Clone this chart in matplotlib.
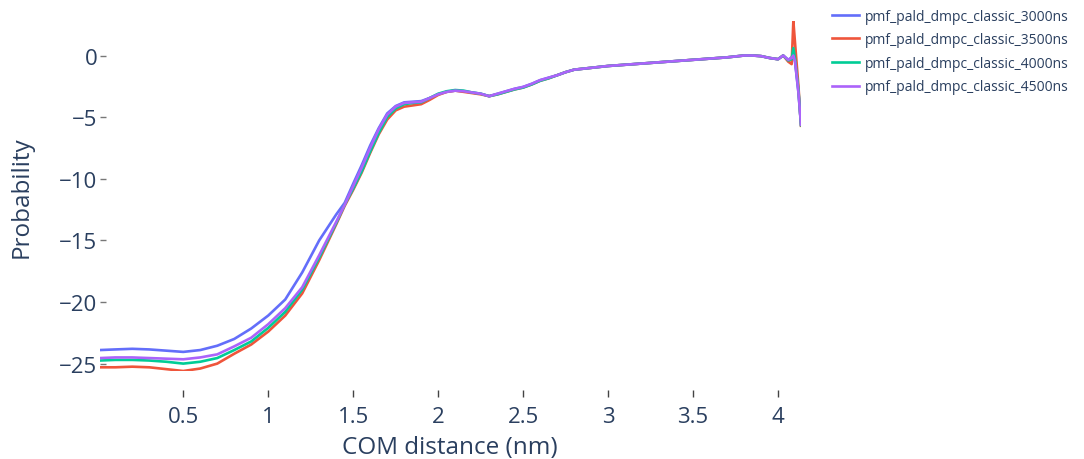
import numpy as np
import matplotlib
matplotlib.use("Agg")
import matplotlib.pyplot as plt

# COM distance grid (nm), shared by all runs
com_nm = [0.01, 0.1, 0.2, 0.3, 0.4, 0.5, 0.6, 0.7, 0.8, 0.9,
          1.0, 1.1, 1.2, 1.3, 1.4, 1.45, 1.5, 1.55, 1.6, 1.65,
          1.7, 1.75, 1.8, 1.85, 1.9, 1.95, 2.0, 2.05, 2.1, 2.15,
          2.2, 2.25, 2.3, 2.35, 2.4, 2.45, 2.5, 2.55, 2.6, 2.65,
          2.7, 2.75, 2.8, 2.9, 3.0, 3.1, 3.2, 3.3, 3.4, 3.5,
          3.6, 3.7, 3.8, 3.85, 3.9, 3.95, 4.0, 4.03, 4.06, 4.08,
          4.09, 4.1, 4.12, 4.135]

pmf_3000 = [-23.9, -23.85, -23.8, -23.85, -23.95, -24.05, -23.9, -23.55, -23.0, -22.15,
            -21.1, -19.8, -17.6, -15.0, -12.9, -11.95, -10.4, -8.9, -7.3, -5.9,
            -4.7, -4.1, -3.8, -3.75, -3.7, -3.45, -3.15, -2.95, -2.85, -2.9,
            -3.0, -3.1, -3.3, -3.1, -2.9, -2.7, -2.55, -2.3, -2.0, -1.8,
            -1.6, -1.35, -1.15, -1.0, -0.85, -0.75, -0.65, -0.55, -0.45, -0.35,
            -0.25, -0.15, 0.0, 0.0, -0.05, -0.2, -0.3, 0.0, -0.35, -0.15,
            0.1, -0.5, -3.0, -5.6]

pmf_3500 = [-25.3, -25.3, -25.25, -25.3, -25.45, -25.6, -25.4, -25.0, -24.2, -23.45,
            -22.4, -21.1, -19.3, -16.6, -13.7, -12.2, -10.9, -9.5, -7.9, -6.4,
            -5.2, -4.45, -4.15, -4.05, -3.95, -3.6, -3.2, -2.95, -2.85, -2.95,
            -3.05, -3.15, -3.3, -3.15, -2.95, -2.75, -2.6, -2.35, -2.05, -1.85,
            -1.6, -1.35, -1.15, -1.0, -0.85, -0.75, -0.65, -0.55, -0.45, -0.35,
            -0.25, -0.15, 0.0, 0.0, -0.05, -0.2, -0.3, 0.0, -0.5, -0.7,
            2.8, 1.0, -2.5, -5.7]

pmf_4000 = [-24.75, -24.7, -24.7, -24.75, -24.85, -25.0, -24.85, -24.55, -23.9, -23.2,
            -22.1, -20.8, -19.0, -16.4, -13.6, -12.1, -10.8, -9.4, -7.8, -6.3,
            -5.0, -4.3, -3.95, -3.85, -3.8, -3.45, -3.1, -2.9, -2.8, -2.85,
            -3.0, -3.1, -3.3, -3.15, -2.95, -2.75, -2.6, -2.35, -2.05, -1.85,
            -1.6, -1.35, -1.15, -1.0, -0.85, -0.75, -0.65, -0.55, -0.45, -0.35,
            -0.25, -0.15, 0.0, 0.0, -0.05, -0.2, -0.3, 0.0, -0.4, -0.3,
            0.6, -0.3, -2.8, -5.65]

pmf_4500 = [-24.55, -24.5, -24.5, -24.55, -24.6, -24.65, -24.5, -24.25, -23.6, -22.9,
            -21.8, -20.5, -18.8, -16.2, -13.5, -12.1, -10.6, -9.1, -7.5, -6.0,
            -4.8, -4.15, -3.85, -3.8, -3.75, -3.45, -3.15, -2.95, -2.85, -2.9,
            -3.0, -3.1, -3.3, -3.1, -2.9, -2.7, -2.55, -2.3, -2.0, -1.8,
            -1.6, -1.35, -1.15, -1.0, -0.85, -0.75, -0.65, -0.55, -0.45, -0.35,
            -0.25, -0.15, 0.0, 0.0, -0.05, -0.2, -0.3, 0.0, -0.35, -0.2,
            0.0, -0.5, -3.0, -5.6]

series = [
    ("pmf_pald_dmpc_classic_3000ns", pmf_3000, "#636efa"),
    ("pmf_pald_dmpc_classic_3500ns", pmf_3500, "#EF553B"),
    ("pmf_pald_dmpc_classic_4000ns", pmf_4000, "#00cc96"),
    ("pmf_pald_dmpc_classic_4500ns", pmf_4500, "#ab63fa"),
]

y_ticks = [-25, -20, -15, -10, -5, 0]
x_ticks = [0.5, 1, 1.5, 2, 2.5, 3, 3.5, 4]
x_tick_labels = ["0.5", "1", "1.5", "2", "2.5", "3", "3.5", "4"]

TXT = "#2a3f5f"
plt.rcParams["font.family"] = ["Open Sans", "DejaVu Sans"]

W, H = 1084, 460
fig = plt.figure(figsize=(W / 100, H / 100), dpi=100)
ax = fig.add_axes([100 / W, 1 - 372 / H, 701 / W, 350 / H])

for label, y, color in series:
    ax.plot(com_nm, y, color=color, lw=1.9, label=label)

all_y = np.concatenate([pmf_3000, pmf_3500, pmf_4000, pmf_4500])
ax.set_xlim(min(com_nm), max(com_nm))
ax.set_ylim(all_y.min(), all_y.max())

for s in ax.spines.values():
    s.set_visible(False)
ax.spines["bottom"].set_position(("outward", 14))

ax.set_xticks(x_ticks)
ax.set_xticklabels(x_tick_labels)
ax.set_yticks(y_ticks)
ax.tick_params(axis="x", direction="out", length=5, width=1, color="#444444",
               pad=6, labelsize=16, labelcolor=TXT)
ax.tick_params(axis="y", direction="in", length=4, width=1, color="#777777",
               pad=2, labelsize=16, labelcolor=TXT)

fig.text(450 / W, 1 - 448 / H, "COM distance (nm)", ha="center", va="center",
         fontsize=17.5, color=TXT)
fig.text(22 / W, 1 - 197 / H, "Probability", ha="center", va="center",
         rotation=90, fontsize=17.5, color=TXT)

fig.legend(loc="upper left", bbox_to_anchor=(826 / W, 1 - 4 / H), frameon=False,
           fontsize=10, labelcolor=TXT, handlelength=2.0, handletextpad=0.4,
           labelspacing=0.62, borderaxespad=0)

fig.savefig("out.png", dpi=100)
